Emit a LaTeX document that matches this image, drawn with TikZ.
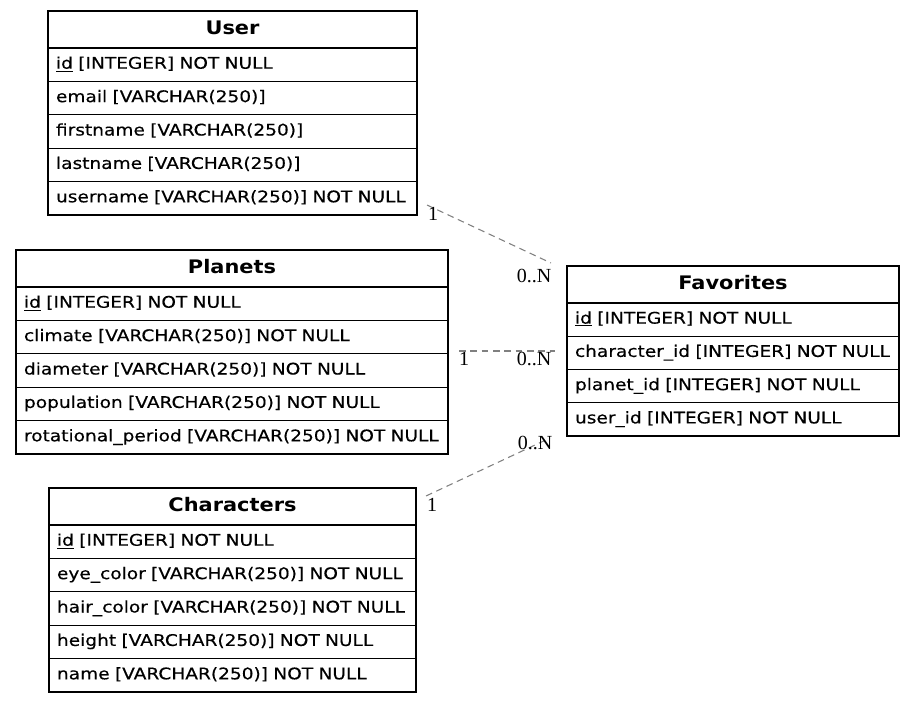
\documentclass[tikz,border=0pt]{standalone}
\usepackage{fontspec}
\newfontfamily\fieldfont{DejaVu Sans}[FakeStretch=1.16, FakeBold=0.4]
\newfontfamily\headfont{DejaVu Sans}[FakeStretch=1.12]
\newfontfamily\labfont{Liberation Serif}
\newcommand\fld[1]{\mbox{#1}}
\begin{document}
\begin{tikzpicture}[x=0.75pt,y=-0.75pt,
  cell/.style={draw=black, line width=1pt, rectangle, anchor=north west,
    inner xsep=6pt, inner ysep=0pt, outer sep=0pt, minimum height=25.05pt,
    text height=9pt, text depth=3pt, align=left,
    font=\fieldfont\fontsize{12}{14}\selectfont},
  headcell/.style={cell, minimum height=27.75pt, align=center,
    text height=10.5pt, text depth=3pt,
    font=\headfont\bfseries\fontsize{14}{16}\selectfont},
  rel/.style={draw=gray, line width=0.8pt, dash pattern=on 5pt off 3.5pt},
  card/.style={font=\labfont\fontsize{15}{16}\selectfont, inner sep=0pt}]
\useasboundingbox (0,0) rectangle (915,703);

% User
\node[headcell, text width=264.75pt] (uh) at (48,11) {User};
\node[cell, text width=264.75pt] (u1) at (uh.south west) {\fld{\underline{id} [INTEGER] NOT NULL}};
\node[cell, text width=264.75pt] (u2) at (u1.south west) {\fld{email [VARCHAR(250)]}};
\node[cell, text width=264.75pt] (u3) at (u2.south west) {\fld{firstname [VARCHAR(250)]}};
\node[cell, text width=264.75pt] (u4) at (u3.south west) {\fld{lastname [VARCHAR(250)]}};
\node[cell, text width=264.75pt] (u5) at (u4.south west) {\fld{username [VARCHAR(250)] NOT NULL}};

% Planets
\node[headcell, text width=312pt] (ph) at (16,250) {Planets};
\node[cell, text width=312pt] (p1) at (ph.south west) {\fld{\underline{id} [INTEGER] NOT NULL}};
\node[cell, text width=312pt] (p2) at (p1.south west) {\fld{climate [VARCHAR(250)] NOT NULL}};
\node[cell, text width=312pt] (p3) at (p2.south west) {\fld{diameter [VARCHAR(250)] NOT NULL}};
\node[cell, text width=312pt] (p4) at (p3.south west) {\fld{population [VARCHAR(250)] NOT NULL}};
\node[cell, text width=312pt] (p5) at (p4.south west) {\fld{rotational\_period [VARCHAR(250)] NOT NULL}};

% Characters
\node[headcell, text width=263.25pt] (ch) at (49,488) {Characters};
\node[cell, text width=263.25pt] (c1) at (ch.south west) {\fld{\underline{id} [INTEGER] NOT NULL}};
\node[cell, text width=263.25pt] (c2) at (c1.south west) {\fld{eye\_color [VARCHAR(250)] NOT NULL}};
\node[cell, text width=263.25pt] (c3) at (c2.south west) {\fld{hair\_color [VARCHAR(250)] NOT NULL}};
\node[cell, text width=263.25pt] (c4) at (c3.south west) {\fld{height [VARCHAR(250)] NOT NULL}};
\node[cell, text width=263.25pt] (c5) at (c4.south west) {\fld{name [VARCHAR(250)] NOT NULL}};

% Favorites
\node[headcell, text width=237pt] (fh) at (567,266) {Favorites};
\node[cell, text width=237pt, minimum height=24.94pt] (f1) at (fh.south west) {\fld{\underline{id} [INTEGER] NOT NULL}};
\node[cell, text width=237pt, minimum height=24.94pt] (f2) at (f1.south west) {\fld{character\_id [INTEGER] NOT NULL}};
\node[cell, text width=237pt, minimum height=24.94pt] (f3) at (f2.south west) {\fld{planet\_id [INTEGER] NOT NULL}};
\node[cell, text width=237pt, minimum height=24.94pt] (f4) at (f3.south west) {\fld{user\_id [INTEGER] NOT NULL}};

% connector ends
\coordinate (eu) at (427,205);
\coordinate (efu) at (551,263);
\coordinate (ep) at (459,351);
\coordinate (efp) at (555,351);
\coordinate (ec) at (426,496);
\coordinate (efc) at (550,438);

\draw[rel] (eu) -- (efu);
\draw[rel] (ep) -- (efp);
\draw[rel] (ec) -- (efc);

\node[card] (lu1) at (433,214) {1};
\node[card] (lun) at (534,276) {0..N};
\node[card] (lp1) at (464,359) {1};
\node[card] (lpn) at (534,359) {0..N};
\node[card] (lc1) at (432,505) {1};
\node[card] (lcn) at (535,443) {0..N};
\end{tikzpicture}
\end{document}
